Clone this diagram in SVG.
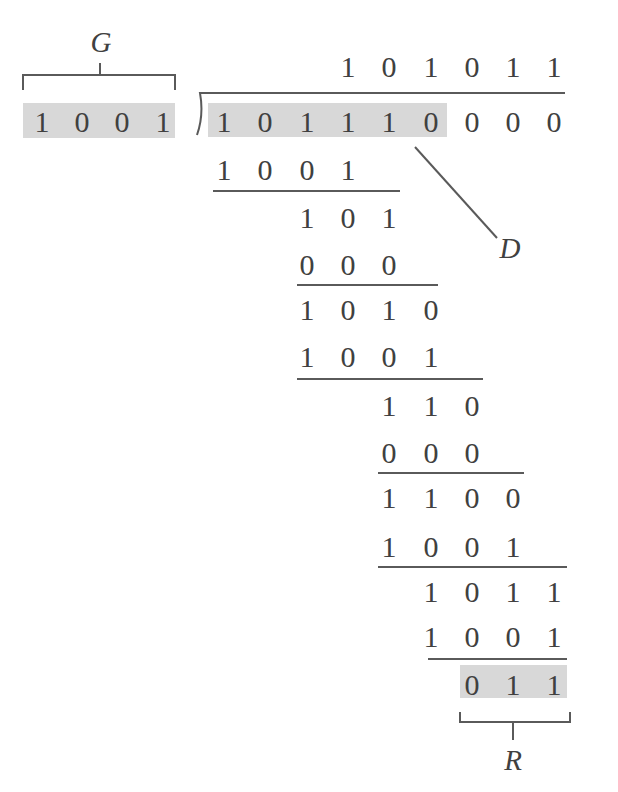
<svg xmlns="http://www.w3.org/2000/svg" width="618" height="792" viewBox="0 0 618 792">
<style>
.d{font-family:"Liberation Serif","Times New Roman",serif;font-size:30px;fill:#404040;text-anchor:middle}
.v{font-family:"Liberation Serif","Times New Roman",serif;font-size:29px;font-style:italic;fill:#404040;text-anchor:middle}
.ln{stroke:#5a5a5a;stroke-width:2;fill:none}
.hl{fill:#d8d8d8}
</style>
<rect width="618" height="792" fill="#ffffff"/>
<g id="highlights">
<rect class="hl" x="23" y="103" width="152" height="35"/>
<rect class="hl" x="208" y="103" width="239" height="34"/>
<rect class="hl" x="460" y="665" width="107" height="33"/>
</g>
<g id="connectors">
<path class="ln" d="M23,90 V75 H175 V90 M100,75 V63"/>
<path class="ln" d="M565,93 H200 Q204,115 197,135"/>
<path class="ln" d="M415,147 L497,238"/>
<path class="ln" d="M213,191 H400 M297,285 H438 M297,379 H483 M378,473 H524 M378,567 H567 M428,659 H567"/>
<path class="ln" d="M460,712 V722 H570 V712 M513,722 V740"/>
</g>
<g id="G"><text class="v" x="101" y="52">G</text></g>
<g id="D"><text class="v" x="510" y="258">D</text></g>
<g id="R"><text class="v" x="513" y="770">R</text></g>
<g id="divisor">
<text class="d" y="132"><tspan x="42">1</tspan><tspan x="82">0</tspan><tspan x="122">0</tspan><tspan x="163">1</tspan></text>
</g>
<g id="quotient">
<text class="d" y="77"><tspan x="348">1</tspan><tspan x="389">0</tspan><tspan x="431">1</tspan><tspan x="472">0</tspan><tspan x="513">1</tspan><tspan x="554">1</tspan></text>
</g>
<g id="dividend">
<text class="d" y="132"><tspan x="224">1</tspan><tspan x="265">0</tspan><tspan x="307">1</tspan><tspan x="348">1</tspan><tspan x="389">1</tspan><tspan x="431">0</tspan><tspan x="472">0</tspan><tspan x="513">0</tspan><tspan x="554">0</tspan></text>
</g>
<g id="steps">
<text class="d" y="180"><tspan x="224">1</tspan><tspan x="265">0</tspan><tspan x="307">0</tspan><tspan x="348">1</tspan></text>
<text class="d" y="228"><tspan x="307">1</tspan><tspan x="348">0</tspan><tspan x="389">1</tspan></text>
<text class="d" y="275"><tspan x="307">0</tspan><tspan x="348">0</tspan><tspan x="389">0</tspan></text>
<text class="d" y="320"><tspan x="307">1</tspan><tspan x="348">0</tspan><tspan x="389">1</tspan><tspan x="431">0</tspan></text>
<text class="d" y="367"><tspan x="307">1</tspan><tspan x="348">0</tspan><tspan x="389">0</tspan><tspan x="431">1</tspan></text>
<text class="d" y="416"><tspan x="389">1</tspan><tspan x="431">1</tspan><tspan x="472">0</tspan></text>
<text class="d" y="463"><tspan x="389">0</tspan><tspan x="431">0</tspan><tspan x="472">0</tspan></text>
<text class="d" y="508"><tspan x="389">1</tspan><tspan x="431">1</tspan><tspan x="472">0</tspan><tspan x="513">0</tspan></text>
<text class="d" y="557"><tspan x="389">1</tspan><tspan x="431">0</tspan><tspan x="472">0</tspan><tspan x="513">1</tspan></text>
<text class="d" y="602"><tspan x="431">1</tspan><tspan x="472">0</tspan><tspan x="513">1</tspan><tspan x="554">1</tspan></text>
<text class="d" y="647"><tspan x="431">1</tspan><tspan x="472">0</tspan><tspan x="513">0</tspan><tspan x="554">1</tspan></text>
</g>
<g id="remainder">
<text class="d" y="695"><tspan x="472">0</tspan><tspan x="513">1</tspan><tspan x="554">1</tspan></text>
</g>
</svg>
